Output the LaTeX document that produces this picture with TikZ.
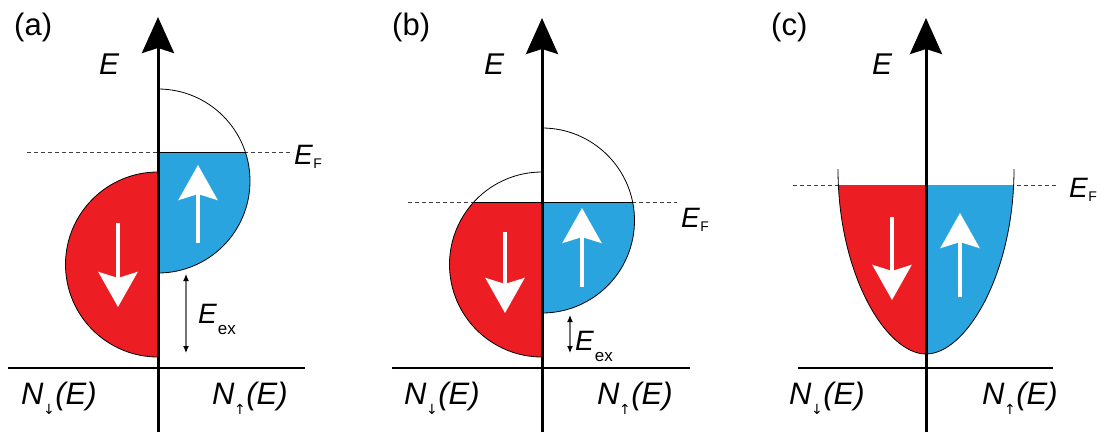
\documentclass[tikz,border=0pt]{standalone}
\usepackage{fontspec}
\setmainfont{Liberation Sans}
\newfontfamily\arrowfont{DejaVu Sans}
\usetikzlibrary{arrows.meta}
\definecolor{dosred}{RGB}{236,30,36}
\definecolor{dosblue}{RGB}{42,164,222}
\newcommand\spinsub[1]{\kern-0.5pt\raisebox{-10pt}{\fontsize{14}{14}\selectfont\arrowfont #1}\kern0.5pt}
\newcommand\fsub{\kern0.5pt\raisebox{-4pt}{\fontsize{14}{14}\selectfont F}}
\newcommand\exsub{\kern1pt\raisebox{-11pt}{\fontsize{17}{17}\selectfont ex}}
\begin{document}
\begin{tikzpicture}[x=1pt,y=-1pt,
  axisline/.style={line width=3pt,-{Stealth[width=32pt,length=36pt,inset=5pt]}},
  nline/.style={line width=2pt},
  efline/.style={line width=1pt,black!75,dash pattern=on 4pt off 3pt},
  spinarrow/.style={white,line width=4pt,-{Stealth[width=39pt,length=35pt,inset=6pt]}},
  exarrow/.style={black!55,line width=1.2pt,{Latex[length=7pt,width=6pt,color=black]}-{Latex[length=7pt,width=6pt,color=black]}},
  outline/.style={line width=0.8pt,black},
  lbl/.style={font=\fontsize{31}{33}\selectfont,inner sep=0pt,anchor=base west},
  elbl/.style={font=\fontsize{30}{32}\selectfont\itshape,inner sep=0pt,anchor=base west},
  slbl/.style={font=\fontsize{28}{30}\selectfont\itshape,inner sep=0pt,anchor=base west},
  nlbl/.style={font=\fontsize{31}{33}\selectfont\itshape,inner sep=0pt,anchor=base west}
]
\useasboundingbox (0,0) rectangle (1104,432);

% ================= panel (a) =================
\coordinate (aEFl) at (27,152);
\coordinate (aEFr) at (293,152);
\draw[efline] (aEFl) -- (aEFr);
\begin{scope}
  \clip (158,152) rectangle (270,380);
  \fill[dosblue] (158,181) circle[radius=92pt];
\end{scope}
\begin{scope}
  \clip (40,60) rectangle (158,380);
  \fill[dosred] (158,264.5) circle[radius=92.5pt];
  \draw[outline] (158,264.5) circle[radius=92.5pt];
\end{scope}
\begin{scope}
  \clip (158,60) rectangle (280,380);
  \draw[outline] (158,181) circle[radius=92pt];
\end{scope}
\coordinate (aCh1) at (158,152);
\coordinate (aCh2) at (245.3,152);
\draw[outline] (aCh1) -- (aCh2);
\coordinate (aNl) at (8,368);
\coordinate (aNr) at (305,368);
\draw[nline] (aNl) -- (aNr);
\coordinate (aAx0) at (158,432);
\coordinate (aAx1) at (158,17);
\draw[axisline] (aAx0) -- (aAx1);
\coordinate (aUp0) at (198,243);
\coordinate (aUp1) at (198,165);
\draw[spinarrow] (aUp0) -- (aUp1);
\coordinate (aDn0) at (118,223);
\coordinate (aDn1) at (118,307);
\draw[spinarrow] (aDn0) -- (aDn1);
\coordinate (aEx0) at (186,274);
\coordinate (aEx1) at (186,353);
\draw[exarrow] (aEx0) -- (aEx1);
\node[lbl] (aTag) at (14,35) {(a)};
\node[elbl] (aE) at (99,74) {E};
\node[slbl] (aEF) at (294,164) {E\upshape\fsub};
\node[slbl] (aEex) at (198,323) {E\upshape\exsub};
\node[nlbl] (aNdn) at (21,404) {N\upshape\spinsub{↓}\itshape(E)};
\node[nlbl] (aNup) at (212,404) {N\upshape\spinsub{↑}\itshape(E)};

% ================= panel (b) =================
\coordinate (bEFl) at (408,202);
\coordinate (bEFr) at (677,202);
\draw[efline] (bEFl) -- (bEFr);
\begin{scope}
  \clip (542,202) rectangle (660,380);
  \fill[dosblue] (542,220.5) circle[radius=92.5pt];
\end{scope}
\begin{scope}
  \clip (430,202) rectangle (542,380);
  \fill[dosred] (542,264.5) circle[radius=92.5pt];
\end{scope}
\begin{scope}
  \clip (430,60) rectangle (542,380);
  \draw[outline] (542,264.5) circle[radius=92.5pt];
\end{scope}
\begin{scope}
  \clip (542,60) rectangle (660,380);
  \draw[outline] (542,220.5) circle[radius=92.5pt];
\end{scope}
\coordinate (bCh1) at (473.8,202);
\coordinate (bCh2) at (632.6,202);
\draw[outline] (bCh1) -- (bCh2);
\coordinate (bNl) at (392,368);
\coordinate (bNr) at (690,368);
\draw[nline] (bNl) -- (bNr);
\coordinate (bAx0) at (542,432);
\coordinate (bAx1) at (542,18);
\draw[axisline] (bAx0) -- (bAx1);
\coordinate (bUp0) at (582,287);
\coordinate (bUp1) at (582,208);
\draw[spinarrow] (bUp0) -- (bUp1);
\coordinate (bDn0) at (505,232);
\coordinate (bDn1) at (505,313);
\draw[spinarrow] (bDn0) -- (bDn1);
\coordinate (bEx0) at (570,315);
\coordinate (bEx1) at (570,353);
\draw[exarrow] (bEx0) -- (bEx1);
\node[lbl] (bTag) at (392,35) {(b)};
\node[elbl] (bE) at (484,74) {E};
\node[slbl] (bEF) at (681,227) {E\upshape\fsub};
\node[slbl] (bEex) at (575,350) {E\upshape\exsub};
\node[nlbl] (bNdn) at (404,404) {N\upshape\spinsub{↓}\itshape(E)};
\node[nlbl] (bNup) at (597,404) {N\upshape\spinsub{↑}\itshape(E)};

% ================= panel (c) =================
\coordinate (cEFl) at (793,185);
\coordinate (cEFr) at (1058,185);
\draw[efline] (cEFl) -- (cEFr);
\coordinate (cBot) at (926,354);
\coordinate (cTopL) at (838,169);
\coordinate (cTopR) at (1014,169);
\begin{scope}
  \clip (800,185) rectangle (1040,380);
  \fill[dosred] (cBot) .. controls (886,354) and (838,274) .. (cTopL) -- (926,169) -- cycle;
  \fill[dosblue] (cBot) .. controls (966,354) and (1014,274) .. (cTopR) -- (926,169) -- cycle;
\end{scope}
\draw[outline] (cBot) .. controls (886,354) and (838,274) .. (cTopL);
\draw[outline] (cBot) .. controls (966,354) and (1014,274) .. (cTopR);
\coordinate (cNl) at (798,368);
\coordinate (cNr) at (1053,368);
\draw[nline] (cNl) -- (cNr);
\coordinate (cAx0) at (926,432);
\coordinate (cAx1) at (926,18);
\draw[axisline] (cAx0) -- (cAx1);
\coordinate (cUp0) at (960,297);
\coordinate (cUp1) at (960,213);
\draw[spinarrow] (cUp0) -- (cUp1);
\coordinate (cDn0) at (892,217);
\coordinate (cDn1) at (892,300);
\draw[spinarrow] (cDn0) -- (cDn1);
\node[lbl] (cTag) at (771,35) {(c)};
\node[elbl] (cE) at (872,74) {E};
\node[slbl] (cEF) at (1069,197) {E\upshape\fsub};
\node[nlbl] (cNdn) at (789,404) {N\upshape\spinsub{↓}\itshape(E)};
\node[nlbl] (cNup) at (982,404) {N\upshape\spinsub{↑}\itshape(E)};
\end{tikzpicture}
\end{document}
